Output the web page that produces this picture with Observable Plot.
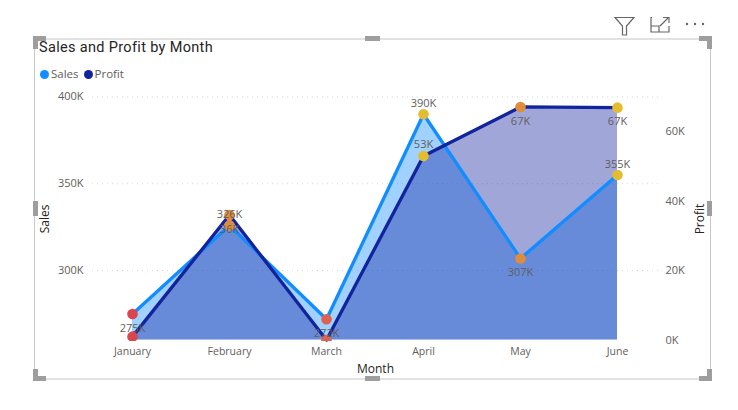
<!DOCTYPE html>
<html>
<head>
<meta charset="utf-8">
<script src="https://cdn.jsdelivr.net/npm/d3@7"></script>
<script src="https://cdn.jsdelivr.net/npm/@observablehq/plot@0.6"></script>
<style>
  html,body{margin:0;padding:0;background:#fff;}
  #stage{position:relative;width:738px;height:410px;overflow:hidden;font-family:"Open Sans",sans-serif;}
  #stage svg.plot{position:absolute;left:0;top:0;background:transparent;}
  .edge,.handle,.overlay{position:absolute;}
  .handle{background:#9e9e9e;}
  #title{left:39px;top:39px;font:14.5px/18px Roboto,sans-serif;color:#252423;letter-spacing:.33px;white-space:nowrap;}
  #legend{left:40px;top:66px;font:11.5px/16px "Open Sans",sans-serif;color:#605e5c;display:flex;align-items:center;white-space:nowrap;}
  #legend i{display:inline-block;width:9px;height:9px;border-radius:50%;margin-right:2px;}
  #legend span{margin-right:5px;}
</style>
</head>
<body>
<div id="stage"></div>
<script>
const months = ["January","February","March","April","May","June"];
const salesK = [275,326,272,390,307,355];
const profitK = [1,36,0,53,67.1,66.9];
const salesTicks = [300,350,400];
const profitTicks = [0,20,40,60];
const salesBelow = ["January","March","May"];
const profitBelow = ["February","May","June"];
const profitAbove = ["April"];

const SALES_COLOR = "#118DFF", PROFIT_COLOR = "#12239E", INK = "#605E5C", DARK = "#252423";
const dotColors = ["#DA464E","#DF8C39","#DE6250","#E3BC30","#DF8C3B","#E3BC30"];

// Profit shares the plot's y scale: its 0-70K axis is laid over the 260K-400K sales axis.
const SALES_MIN = 260, SALES_MAX = 400, PROFIT_MAX = 70;
const fromProfit = p => SALES_MIN + p * (SALES_MAX - SALES_MIN) / PROFIT_MAX;

const rows = months.map((month,i) => ({month, sales: salesK[i], profit: profitK[i], profitY: fromProfit(profitK[i])}));
const fmt = v => Math.round(v) + "K";
const labelFont = {fontSize: 11, fill: INK, fontFamily: '"Open Sans",sans-serif'};
const ABOVE = -11, BELOW = 14;

const chart = Plot.plot({
  width: 738, height: 410,
  marginLeft: 92, marginRight: 80, marginTop: 96, marginBottom: 69,
  style: {fontFamily: '"Open Sans",sans-serif', fontSize: "11px", background: "transparent"},
  x: {type: "point", domain: months, range: [131,617], padding: 0, axis: null},
  y: {domain: [SALES_MIN,SALES_MAX], range: [339.6,96.4], axis: null},
  color: {domain: months, range: dotColors},
  marks: [
    Plot.ruleY(salesTicks, {stroke:"#d6d6d6", strokeWidth:1, strokeDasharray:"1 4"}),
    Plot.areaY(rows, {x:"month", y1:SALES_MIN, y2:"sales", fill:SALES_COLOR, fillOpacity:0.4}),
    Plot.areaY(rows, {x:"month", y1:SALES_MIN, y2:"profitY", fill:PROFIT_COLOR, fillOpacity:0.4}),
    Plot.lineY(rows, {x:"month", y:"sales", stroke:SALES_COLOR, strokeWidth:3.3}),
    Plot.lineY(rows, {x:"month", y:"profitY", stroke:PROFIT_COLOR, strokeWidth:3.3}),
    Plot.dot(rows, {x:"month", y:"sales", r:5.3, fill:"month", clip:true}),
    Plot.dot(rows, {x:"month", y:"profitY", r:5.3, fill:"month", clip:true}),
    Plot.text(rows.filter(d=>salesBelow.includes(d.month)), {x:"month", y:"sales", text:d=>fmt(d.sales), dy:BELOW, ...labelFont}),
    Plot.text(rows.filter(d=>!salesBelow.includes(d.month)), {x:"month", y:"sales", text:d=>fmt(d.sales), dy:ABOVE, ...labelFont}),
    Plot.text(rows.filter(d=>profitBelow.includes(d.month)), {x:"month", y:"profitY", text:d=>fmt(d.profit), dy:BELOW, ...labelFont}),
    Plot.text(rows.filter(d=>profitAbove.includes(d.month)), {x:"month", y:"profitY", text:d=>fmt(d.profit), dy:ABOVE, ...labelFont}),
    Plot.axisX({domain:months, tickSize:0, tickPadding:6, label:"Month", labelAnchor:"center", labelArrow:"none", labelOffset:31, color:INK, fontSize:10.5}),
    Plot.axisY(salesTicks, {anchor:"left", tickSize:0, tickPadding:9, tickFormat:fmt, label:"Sales", labelAnchor:"center", labelArrow:"none", labelOffset:52, color:INK}),
    Plot.axisY(profitTicks.map(fromProfit), {anchor:"right", tickSize:0, tickPadding:7, tickFormat:(d,i)=>fmt(profitTicks[i]), label:"Profit", labelAnchor:"center", labelArrow:"none", labelOffset:45, color:INK})
  ]
});
chart.classList.add("plot");
const stage = document.getElementById("stage");
stage.appendChild(chart);

// axis titles are darker than the tick labels
d3.select(chart).selectAll("text").filter(function(){return ["Month","Sales","Profit"].includes(this.textContent);})
  .attr("fill",DARK).style("font-size","12px");

// selection frame and handles around the visual
const box = (cls,l,t,w,h,bg) => {
  const e = document.createElement("div");
  e.className = cls;
  e.style.cssText = `left:${l}px;top:${t}px;width:${w}px;height:${h}px;` + (bg ? `background:${bg};` : "");
  stage.appendChild(e);
};
box("edge",35,38,675,2,"#e2e2e2");
box("edge",35,378,675,2,"#e2e2e2");
box("edge",34,38,1,342,"#c8c8c8");
box("edge",710,38,1,342,"#c8c8c8");
[[33,36,13,5],[33,36,5,13],[699,36,13,5],[707,36,5,13],[33,376,13,5],[33,369,5,12],[699,376,13,5],[707,369,5,12],
 [365,36,15,5],[365,376,15,5],[33,201,5,15],[707,201,5,15]].forEach(a=>box("handle",...a));

const title = document.createElement("div");
title.id = "title"; title.className = "overlay"; title.textContent = "Sales and Profit by Month";
stage.appendChild(title);
const legend = document.createElement("div");
legend.id = "legend"; legend.className = "overlay";
legend.innerHTML = `<i style="background:${SALES_COLOR}"></i><span>Sales</span><i style="background:${PROFIT_COLOR}"></i><span>Profit</span>`;
stage.appendChild(legend);

// header icons
const icons = document.createElement("div");
icons.className = "overlay";
icons.style.cssText = "left:610px;top:12px;width:100px;height:26px;";
icons.innerHTML = `<svg width="100" height="26" viewBox="0 0 100 26" fill="none" stroke="#666" stroke-width="1.2">
<path d="M5 5.5H24L16.5 14V23H12.5V14Z"/>
<path d="M42 5.5H41V20H59V14M41 14H49V20M50 14L58 6M53 5.5H59V11"/>
<g fill="#666" stroke="none"><circle cx="77" cy="12" r="1.2"/><circle cx="85" cy="12" r="1.2"/><circle cx="93" cy="12" r="1.2"/></g>
</svg>`;
stage.appendChild(icons);
</script>
</body>
</html>
